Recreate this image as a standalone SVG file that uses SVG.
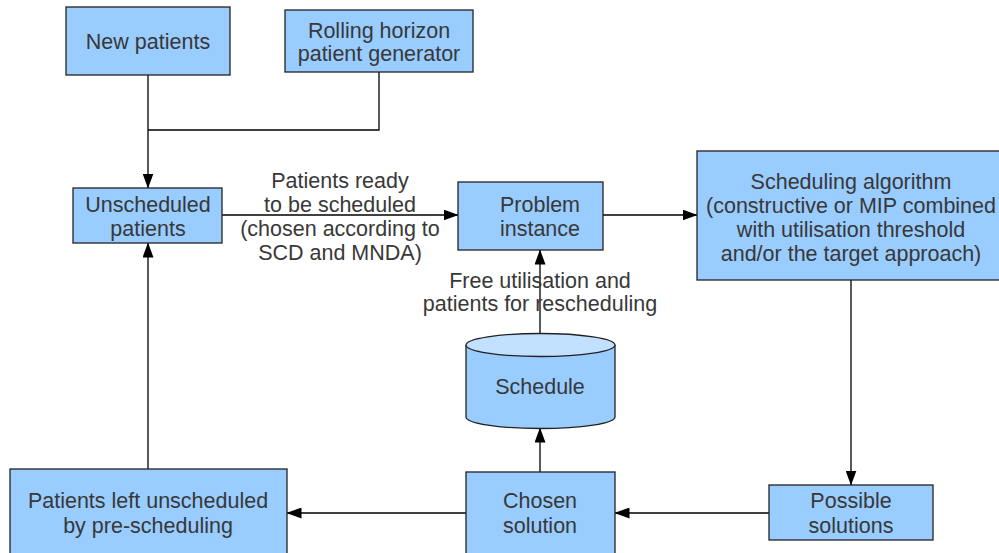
<svg xmlns="http://www.w3.org/2000/svg" width="999" height="553" viewBox="0 0 999 553">
<defs>
<marker id="ah" markerWidth="15" markerHeight="11" refX="14.5" refY="5.5" orient="auto" markerUnits="userSpaceOnUse">
<path d="M0,0 L15,5.5 L0,11 Z" fill="#000"/>
</marker>
<style>
.box{fill:#99ccff;stroke:#222;stroke-width:1.3}
.t{font-family:"Liberation Sans",Arial,sans-serif;font-size:21.5px;fill:#383838;text-anchor:middle}
.c{fill:none;stroke:#000;stroke-width:1.3}
</style>
</defs>
<rect width="999" height="553" fill="#fff"/>
<g id="connectors">
<path class="c" d="M148,75 V188" marker-end="url(#ah)"/>
<path class="c" d="M379,72 V130 H148"/>
<path class="c" d="M222,215 H458" marker-end="url(#ah)"/>
<path class="c" d="M603,215 H697" marker-end="url(#ah)"/>
<path class="c" d="M851,280 V485" marker-end="url(#ah)"/>
<path class="c" d="M769,513 H615" marker-end="url(#ah)"/>
<path class="c" d="M466,513 H287" marker-end="url(#ah)"/>
<path class="c" d="M540,472 V428" marker-end="url(#ah)"/>
<path class="c" d="M540,333 V250" marker-end="url(#ah)"/>
<path class="c" d="M148,469 V243" marker-end="url(#ah)"/>
<text class="t" x="340" y="188">Patients ready</text>
<text class="t" x="340" y="212">to be scheduled</text>
<text class="t" x="340" y="236">(chosen according to</text>
<text class="t" x="340" y="260">SCD and MNDA)</text>
<text class="t" x="540" y="288">Free utilisation and</text>
<text class="t" x="540" y="311">patients for rescheduling</text>
</g>
<g id="new-patients">
<rect class="box" x="66" y="7" width="164" height="68"/>
<text class="t" x="148" y="49">New patients</text>
</g>
<g id="rolling-horizon">
<rect class="box" x="285" y="10" width="188" height="62"/>
<text class="t" x="379" y="38">Rolling horizon</text>
<text class="t" x="379" y="61">patient generator</text>
</g>
<g id="unscheduled-patients">
<rect class="box" x="73" y="188" width="149" height="55"/>
<text class="t" x="148" y="212">Unscheduled</text>
<text class="t" x="148" y="236">patients</text>
</g>
<g id="problem-instance">
<rect class="box" x="458" y="182" width="145" height="68"/>
<text class="t" x="540" y="212">Problem</text>
<text class="t" x="540" y="236">instance</text>
</g>
<g id="scheduling-algorithm">
<rect class="box" x="697" y="151" width="310" height="129"/>
<text class="t" x="851" y="189">Scheduling algorithm</text>
<text class="t" x="851" y="213">(constructive or MIP combined</text>
<text class="t" x="851" y="237">with utilisation threshold</text>
<text class="t" x="851" y="261">and/or the target approach)</text>
</g>
<g id="schedule">
<path class="box" d="M466,345 V417 A74.5,11.5 0 0 0 615,417 V345"/>
<ellipse cx="540.5" cy="345" rx="74.5" ry="11.5" fill="#c2e0ff" stroke="#222" stroke-width="1.3"/>
<text class="t" x="540" y="394">Schedule</text>
</g>
<g id="possible-solutions">
<rect class="box" x="769" y="485" width="164" height="55"/>
<text class="t" x="851" y="508">Possible</text>
<text class="t" x="851" y="533">solutions</text>
</g>
<g id="chosen-solution">
<rect class="box" x="466" y="472" width="149" height="90"/>
<text class="t" x="540" y="508">Chosen</text>
<text class="t" x="540" y="533">solution</text>
</g>
<g id="patients-left">
<rect class="box" x="10" y="469" width="277" height="95"/>
<text class="t" x="148" y="508">Patients left unscheduled</text>
<text class="t" x="148" y="533">by pre-scheduling</text>
</g>
</svg>
